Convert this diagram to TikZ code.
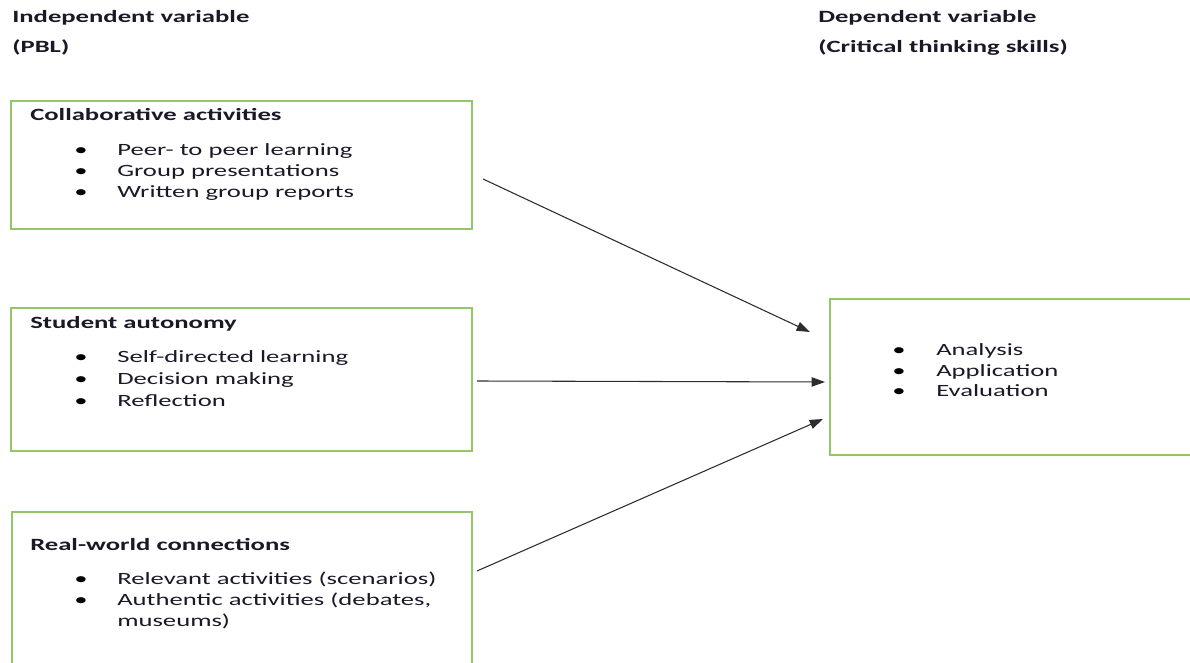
\documentclass[tikz,border=0pt]{standalone}
\usepackage{fontspec}
\setmainfont{Carlito}[FakeStretch=1.55]
\usetikzlibrary{arrows.meta}
\definecolor{boxgreen}{RGB}{146,198,104}
\definecolor{arrgray}{RGB}{45,45,45}
\definecolor{txtcol}{RGB}{25,25,40}
\begin{document}
\begin{tikzpicture}[x=0.75pt,y=-0.75pt,
  box/.style={draw=boxgreen,line width=1.5pt,anchor=north west,inner sep=0pt},
  txt/.style={anchor=base west,inner sep=0pt,text=txtcol,font=\fontsize{12.9pt}{15.75pt}\selectfont},
  hd/.style={anchor=base west,inner sep=0pt,text=txtcol,font=\fontsize{12.9pt}{15.75pt}\selectfont\bfseries},
  bul/.style={anchor=base,inner sep=0pt,text=black,font=\fontsize{12.9pt}{15.75pt}\selectfont},
  arr/.style={draw=arrgray,line width=0.8pt,-{Triangle[length=10pt,width=7pt]}}]
\useasboundingbox (0,0) rectangle (1190,663);
\clip (0,0) rectangle (1190,663);
% headings
\node[hd] (iv) at (12,23) {Independent variable};
\node[hd] (pbl) at (12,53) {(PBL)};
\node[hd] (dv) at (818,23) {Dependent variable};
\node[hd] (cts) at (818,53) {(Critical thinking skills)};
% boxes
\node[box,minimum width=345.75pt,minimum height=96pt] (b1) at (10,100) {};
\node[box,minimum width=345.75pt,minimum height=107.25pt] (b2) at (10,307) {};
\node[box,minimum width=345pt,minimum height=150pt] (b3) at (11,511) {};
\node[box,minimum width=300pt,minimum height=117pt] (b4) at (829,298) {};
% box 1
\node[hd] (h1) at (30,121) {Collaborative activities};
\node[bul] (d11) at (81,156) {•};
\node[txt] (t11) at (117,156) {Peer- to peer learning};
\node[bul] (d12) at (81,177) {•};
\node[txt] (t12) at (117,177) {Group presentations};
\node[bul] (d13) at (81,198) {•};
\node[txt] (t13) at (117,198) {Written group reports};
% box 2
\node[hd] (h2) at (30,329) {Student autonomy};
\node[bul] (d21) at (81,363) {•};
\node[txt] (t21) at (117,363) {Self-directed learning};
\node[bul] (d22) at (81,384) {•};
\node[txt] (t22) at (117,384) {Decision making};
\node[bul] (d23) at (81,406) {•};
\node[txt] (t23) at (117,406) {Reflection};
% box 3
\node[hd] (h3) at (30,550) {Real-world connections};
\node[bul] (d31) at (81,584) {•};
\node[txt] (t31) at (117,584) {Relevant activities (scenarios)};
\node[bul] (d32) at (81,605) {•};
\node[txt] (t32) at (117,605) {Authentic activities (debates,};
\node[txt] (t33) at (117,626) {museums)};
% box 4
\node[bul] (d41) at (899,355) {•};
\node[txt] (t41) at (936,355) {Analysis};
\node[bul] (d42) at (899,376) {•};
\node[txt] (t42) at (936,376) {Application};
\node[bul] (d43) at (899,397) {•};
\node[txt] (t43) at (936,397) {Evaluation};
% arrow ends
\coordinate (s1) at (483,179);
\coordinate (e1) at (810,332);
\coordinate (s2) at (477,381);
\coordinate (e2) at (825,382);
\coordinate (s3) at (477,571);
\coordinate (e3) at (823,419);
\draw[arr] (s1) -- (e1);
\draw[arr] (s2) -- (e2);
\draw[arr] (s3) -- (e3);
\end{tikzpicture}
\end{document}
